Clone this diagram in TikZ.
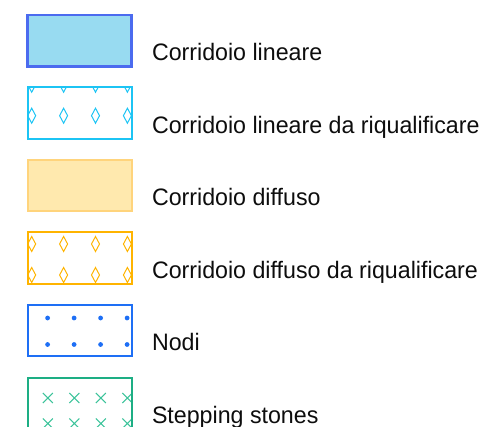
\documentclass[tikz,border=0pt]{standalone}
\usepackage{fontspec}
\setmainfont[FakeStretch=0.975]{Liberation Sans}
\definecolor{linB}{HTML}{4B6BEF}
\definecolor{linF}{HTML}{98DBF1}
\definecolor{cyanB}{HTML}{1CC4F4}
\definecolor{difB}{HTML}{FFD47C}
\definecolor{difF}{HTML}{FFE9AE}
\definecolor{orB}{HTML}{FFB400}
\definecolor{nodB}{HTML}{1E6FF5}
\definecolor{stB}{HTML}{1DAE84}
\definecolor{stX}{HTML}{3CC39A}
\tikzset{
  legbox/.style={draw, line width=2pt, minimum width=104pt, minimum height=51.5pt, inner sep=0pt, outer sep=0pt},
  lbl/.style={anchor=base west, inner sep=0pt, font=\fontsize{23.8}{28}\selectfont, text=black!95},
  dia/.style={line width=1pt},
}
\newcommand{\mydiamond}[3]{\draw[dia,#3] (#1,#2-7.5) -- (#1+4,#2) -- (#1,#2+7.5) -- (#1-4,#2) -- cycle;}
\begin{document}
\begin{tikzpicture}[x=1pt,y=-1pt]
\useasboundingbox (0,0) rectangle (487,427);
% boxes
\node[legbox, draw=linB, fill=linF, line width=2.5pt] (b1) at (79.7,40.7) {};
\node[legbox, draw=cyanB] (b2) at (79.7,113) {};
\node[legbox, draw=difB, fill=difF] (b3) at (79.7,185.6) {};
\node[legbox, draw=orB] (b4) at (79.7,257.8) {};
\node[legbox, draw=nodB] (b5) at (79.7,330.6) {};
\node[legbox, draw=stB] (b6) at (79.7,403.5) {};
% patterns
\begin{scope}
  \clip (b2.north west) rectangle (b2.south east);
  \foreach \x in {31.7,63.6,95.5,127.4}
    \foreach \y in {84.7,115.7,146.7} {\mydiamond{\x}{\y}{cyanB}}
\end{scope}
\begin{scope}
  \clip (b4.north west) rectangle (b4.south east);
  \foreach \x in {31.7,63.6,95.5,127.4}
    \foreach \y in {213,244,275} {\mydiamond{\x}{\y}{orB}}
\end{scope}
\begin{scope}
  \clip (b5.north west) rectangle (b5.south east);
  \foreach \x in {47.6,74.1,100.6,127.1}
    \foreach \y in {318,344.5} {\fill[nodB] (\x,\y) circle (2.4);}
\end{scope}
\begin{scope}
  \clip (b6.north west) rectangle (b6.south east);
  \foreach \x in {47.8,74.3,100.8,127.3}
    \foreach \y in {398,423.5} {\draw[stX, line width=1pt] (\x-5,\y-5) -- (\x+5,\y+5) (\x-5,\y+5) -- (\x+5,\y-5);}
\end{scope}
\draw[stB, line width=2pt] (b6.north west) rectangle (b6.south east);
% labels
\node[lbl] (t1) at (151.8,60.5) {Corridoio lineare};
\node[lbl] (t2) at (151.8,133.1) {Corridoio lineare da riqualificare};
\node[lbl] (t3) at (151.8,205.7) {Corridoio diffuso};
\node[lbl] (t4) at (151.8,278.3) {Corridoio diffuso da riqualificare};
\node[lbl] (t5) at (151.8,350.9) {Nodi};
\node[lbl] (t6) at (151.8,423.5) {Stepping stones};
\end{tikzpicture}
\end{document}
